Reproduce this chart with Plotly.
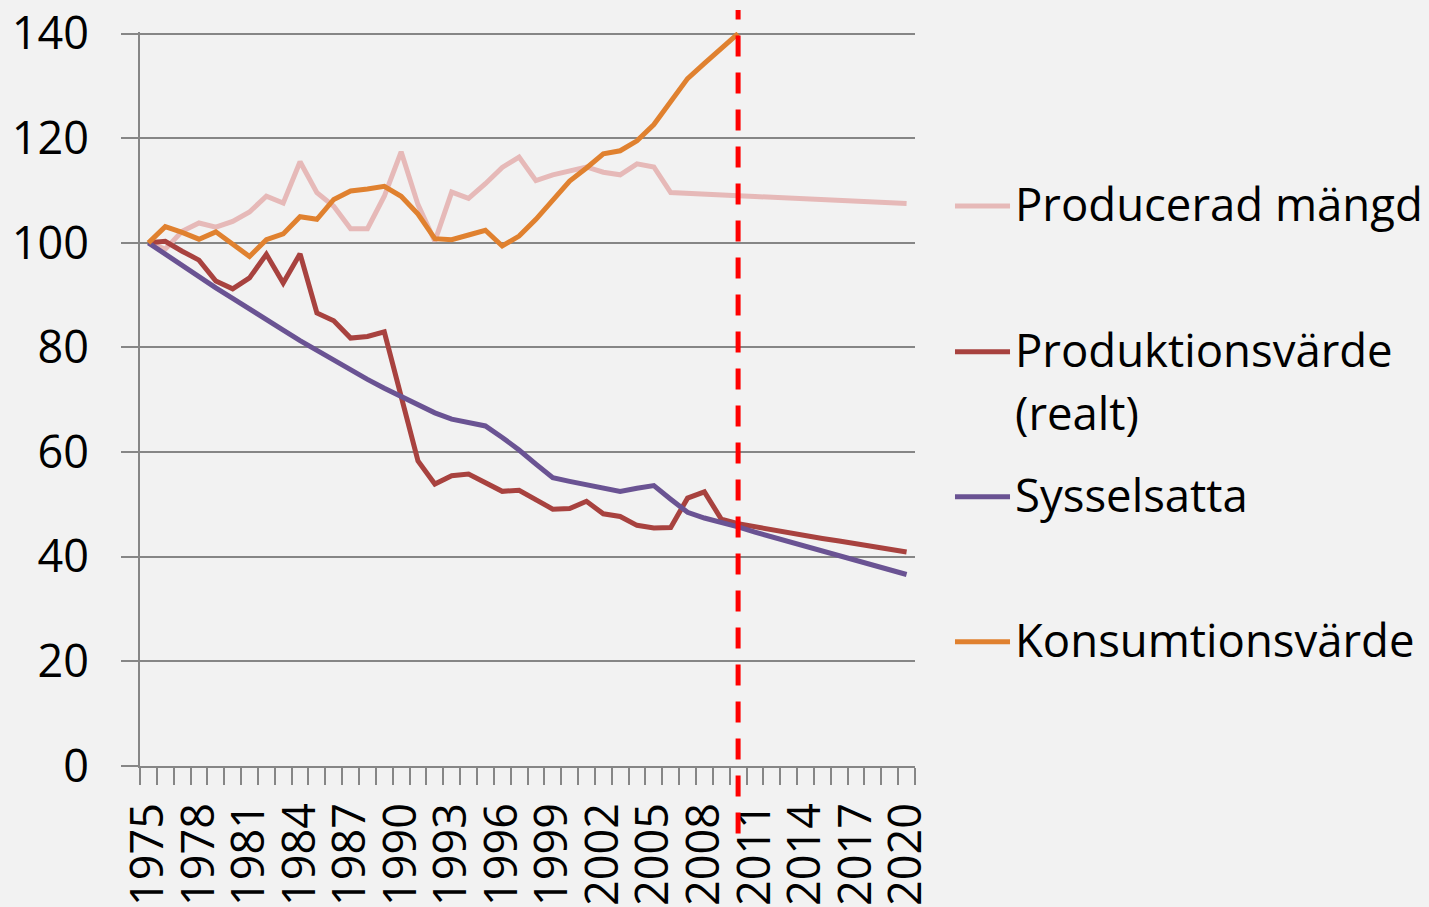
import plotly.graph_objects as go

# ---- data ----
years = list(range(1975, 2021))
tick_years = [1975, 1978, 1981, 1984, 1987, 1990, 1993, 1996, 1999, 2002,
              2005, 2008, 2011, 2014, 2017, 2020]
tick_labels = [str(y) for y in tick_years]
y_ticks = [0, 20, 40, 60, 80, 100, 120, 140]

producerad_mangd = [100, 98.8, 102.2, 103.8, 103.0, 104.1, 105.9, 108.9, 107.6, 115.5,
                    109.6, 107.0, 102.7, 102.7, 108.9, 117.4, 107.3, 100.3, 109.7, 108.5,
                    111.3, 114.4, 116.4, 111.9, 113.0, 113.7, 114.5, 113.5, 113.0, 115.1,
                    114.5, 109.6, 109.5, 109.3, 109.2, 109.0, 108.85, 108.7, 108.55, 108.4,
                    108.25, 108.1, 107.95, 107.8, 107.65, 107.5]
produktionsvarde = [100, 100.3, 98.4, 96.7, 92.7, 91.2, 93.3, 97.8, 92.3, 97.9,
                    86.6, 85.1, 81.8, 82.1, 83.0, 71.0, 58.3, 53.9, 55.5, 55.8,
                    54.2, 52.5, 52.7, 50.9, 49.1, 49.2, 50.6, 48.2, 47.7, 46.0,
                    45.5, 45.6, 51.2, 52.4, 47.2, 46.3, 45.7, 45.1, 44.5, 44.0,
                    43.5, 43.0, 42.5, 42.0, 41.5, 40.9]
sysselsatta = [100, 97.8, 95.6, 93.5, 91.4, 89.4, 87.3, 85.3, 83.3, 81.3,
               79.4, 77.5, 75.7, 73.9, 72.2, 70.6, 69.0, 67.5, 66.3, 65.7,
               65.0, 62.8, 60.4, 57.7, 55.1, 54.4, 53.8, 53.2, 52.5, 53.1,
               53.6, 51.0, 48.5, 47.4, 46.6, 45.7, 44.7, 43.8, 42.9, 42.0,
               41.2, 40.2, 39.3, 38.4, 37.5, 36.6]
konsumtionsvarde = [100, 103.1, 102.0, 100.7, 102.1, 99.7, 97.4, 100.6, 101.7, 105.0,
                    104.5, 108.3, 109.9, 110.3, 110.8, 108.9, 105.5, 100.8, 100.6, 101.5,
                    102.4, 99.4, 101.3, 104.5, 108.3, 111.8, 114.3, 117.0, 117.6, 119.5,
                    122.6, 127.0, 131.4, 134.3, 137.1, 140.0] + [None] * 10

prognos_start = 2010

series_names = ["Producerad mängd", "Produktionsvärde<br>(realt)", "Sysselsatta", "Konsumtionsvärde"]
series_values = [producerad_mangd, produktionsvarde, sysselsatta, konsumtionsvarde]
series_colors = ["#E6B9B8", "#A8423F", "#6A5393", "#E0812F"]

# ---- figure ----
BG = "#F2F2F2"
GRID = "#868686"
FONT = "Open Sans"

fig = go.Figure()
for name, vals, col in zip(series_names, series_values, series_colors):
    fig.add_trace(go.Scatter(x=years, y=vals, mode="lines", name=name.replace("<br>", " "),
                             line=dict(color=col, width=5), showlegend=False,
                             connectgaps=False))

# prognosis divider line
fig.add_shape(type="line", xref="x", yref="paper", x0=prognos_start, x1=prognos_start,
              y0=-0.092, y1=1.03, line=dict(color="#FF0000", width=5, dash="21px,16px"))

# legend (keys + labels placed on the right)
legend_y = [0.7629, 0.5645, 0.3669, 0.1693]
for name, col, ly in zip(series_names, series_colors, legend_y):
    fig.add_shape(type="line", xref="paper", yref="paper", x0=1.0516, x1=1.1226,
                  y0=ly, y1=ly, line=dict(color=col, width=5))
    lines = name.split("<br>")
    for k, txt in enumerate(lines):
        fig.add_annotation(xref="paper", yref="paper", x=1.1265,
                           y=ly + 3 / 734 - k * 63 / 734, text=txt,
                           showarrow=False, xanchor="left", yanchor="middle",
                           font=dict(family=FONT, size=45.5, color="#000000"))

fig.update_layout(
    width=1429, height=907,
    margin=dict(l=140, r=514, t=32, b=141, pad=0, autoexpand=False),
    paper_bgcolor=BG, plot_bgcolor=BG,
    font=dict(family=FONT, size=45, color="#000000"),
    showlegend=False,
)
fig.update_xaxes(
    range=[1974.5, 2020.5], tickmode="array", tickvals=tick_years, ticktext=tick_labels,
    tickangle=-90, ticks="outside", ticklen=17, tickcolor="rgba(0,0,0,0)",
    ticklabelstandoff=0, automargin=False,
    showgrid=False, zeroline=False, showline=True, linecolor=GRID, linewidth=2,
    minor=dict(tickmode="array", tickvals=[y - 0.5 for y in years] + [2020.5],
               ticks="outside", ticklen=17, tickcolor=GRID, tickwidth=2, showgrid=False),
    tickfont=dict(family=FONT, size=45),
)
fig.update_yaxes(
    range=[0, 140.3], tickmode="array", tickvals=y_ticks,
    ticks="outside", ticklen=17, tickcolor=GRID, tickwidth=2, ticklabelstandoff=23,
    automargin=False,
    showgrid=True, gridcolor=GRID, gridwidth=2, zeroline=False,
    showline=True, linecolor=GRID, linewidth=2,
    tickfont=dict(family=FONT, size=45),
)

fig.write_html("out.html", config={"displayModeBar": False},
               post_script="document.body.style.margin='0';")
